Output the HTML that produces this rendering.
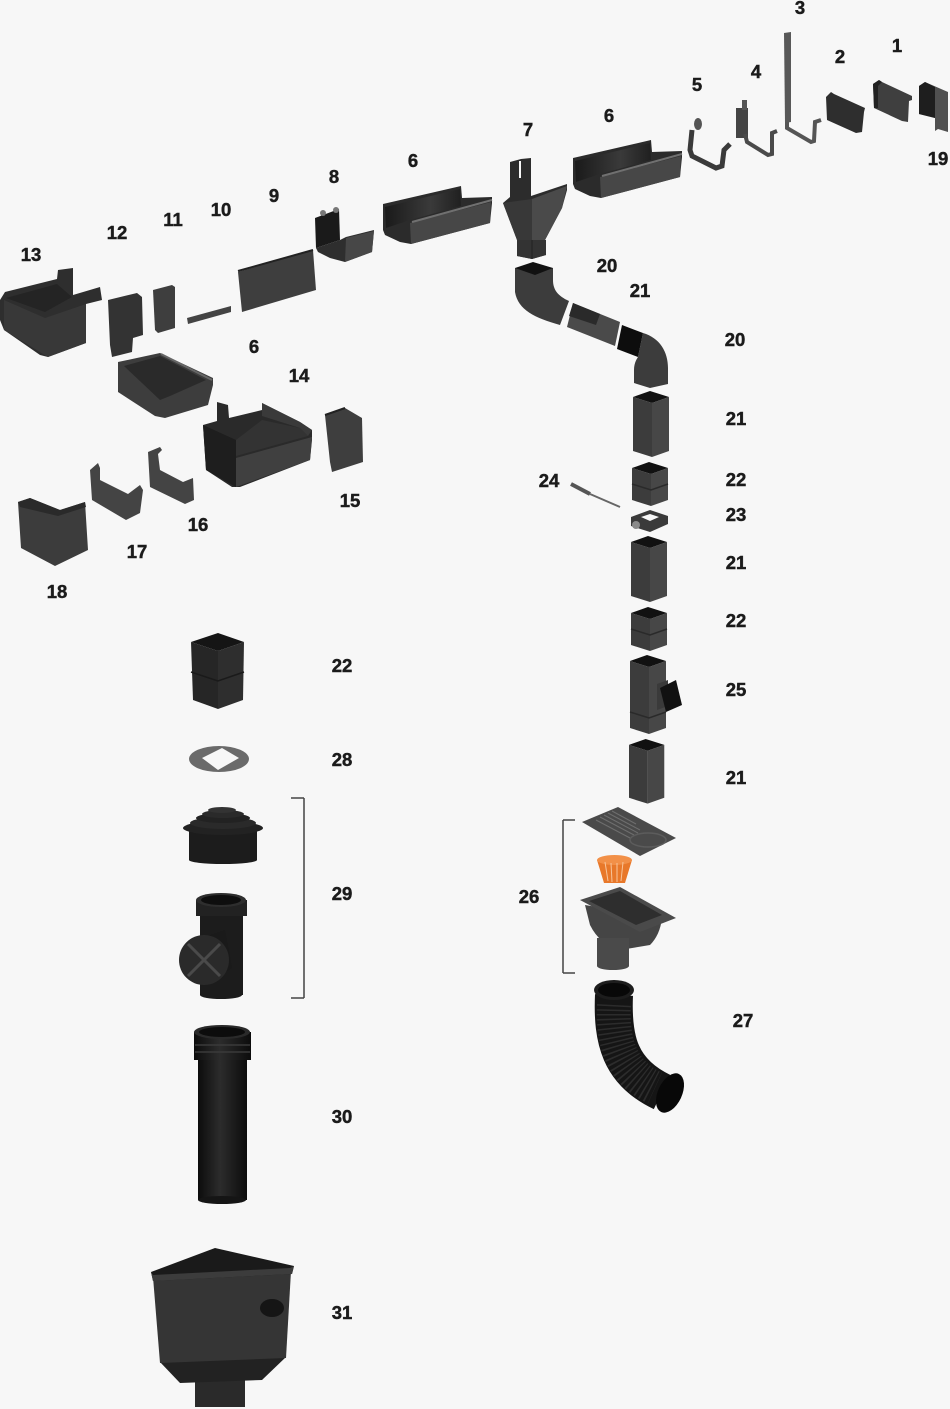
<!DOCTYPE html>
<html><head><meta charset="utf-8"><style>
html,body{margin:0;padding:0;background:#f7f7f7;}
svg{display:block;}
text{font-family:"Liberation Sans",sans-serif;font-weight:700;font-size:18.5px;fill:#1b1b1b;stroke:#1b1b1b;stroke-width:0.45;text-anchor:middle;}
</style></head><body>
<svg width="950" height="1409" viewBox="0 0 950 1409" xmlns="http://www.w3.org/2000/svg">
<defs>
<linearGradient id="gin" x1="0" y1="0" x2="1" y2="0"><stop offset="0" stop-color="#1a1a1a"/><stop offset="0.6" stop-color="#3a3a3a"/><stop offset="1" stop-color="#202020"/></linearGradient>
<linearGradient id="gp" x1="0" y1="0" x2="1" y2="0"><stop offset="0" stop-color="#0c0c0c"/><stop offset="0.45" stop-color="#2c2c2c"/><stop offset="1" stop-color="#0c0c0c"/></linearGradient>
<g id="gut">
<polygon points="573,158 651,140 652,152 682,151 682,157 680,177 601,198 590,196 575,189 573,184" fill="#2b2b2b"/>
<polygon points="575,161 650,143 651,160 600,174 576,182" fill="url(#gin)"/>
<polygon points="600,177 681,156 680,177 601,198" fill="#474747"/>
<line x1="602" y1="176" x2="682" y2="154" stroke="#707070" stroke-width="2"/>
</g>
<g id="tube">
<polygon points="0,6 17,0 36,6 19,12" fill="#111"/>
<polygon points="0,6 19,12 19,66 0,60" fill="#3c3c3c"/>
<polygon points="19,12 36,6 36,60 19,66" fill="#474747"/>
</g>
<g id="coup">
<polygon points="0,6 17,0 36,6 19,12" fill="#111"/>
<polygon points="0,6 19,12 19,44 0,38" fill="#3c3c3c"/>
<polygon points="19,12 36,6 36,38 19,44" fill="#474747"/>
<polyline points="0,22 19,28 36,22" fill="none" stroke="#2a2a2a" stroke-width="1.5"/>
</g>
</defs>

<!-- 1 -->
<polygon points="873,84 879,80 882,82 912,96 912,100 909,101 908,122 902,121 874,108" fill="#3f3f3f"/>
<polygon points="873,84 879,80 882,82 878,86 878,108 874,108" fill="#222"/>
<!-- 19 -->
<polygon points="919,86 925,82 948,92 948,132 938,129 935,131 935,118 919,114" fill="#505050"/>
<polygon points="919,86 925,82 935,87 935,118 919,114" fill="#1e1e1e"/>
<!-- 2 -->
<polygon points="826,97 831,92 834,94 865,108 864,112 862,132 856,133 827,120" fill="#2e2e2e"/>
<!-- 3 -->
<polygon points="784,33 791,32 791,122 785,123" fill="#585858"/>
<polyline points="787,122 787,128 811,142 814,141 815,122 821,120" fill="none" stroke="#555" stroke-width="4"/>
<!-- 4 -->
<rect x="736" y="108" width="12" height="30" fill="#444"/>
<rect x="742" y="100" width="5" height="10" fill="#555"/>
<polyline points="745,134 747,142 768,155 772,154 772,133 777,131" fill="none" stroke="#4a4a4a" stroke-width="4"/>
<!-- 5 -->
<polyline points="692,130 690,150 692,156 716,168 722,166 724,150 730,144" fill="none" stroke="#3a3a3a" stroke-width="5"/>
<ellipse cx="698" cy="124" rx="4" ry="6" fill="#555"/>
<!-- 6 gutters -->
<use href="#gut"/>
<use href="#gut" transform="translate(-190,46)"/>
<!-- 6 lower -->
<polygon points="118,362 160,353 213,378 213,385 208,405 165,418 155,416 118,392" fill="#3d3d3d"/>
<polygon points="124,366 160,356 206,380 170,396 160,400" fill="#2a2a2a"/>
<line x1="161" y1="354" x2="212" y2="380" stroke="#666" stroke-width="2"/>
<!-- 7 -->
<polygon points="503,203 510,197 510,162 521,159 531,158 531,196 567,184 567,190 562,208 545,240 546,255 532,259 517,256 517,240" fill="#2c2c2c"/>
<line x1="520" y1="161" x2="520" y2="178" stroke="#f7f7f7" stroke-width="2"/>
<polygon points="532,199 567,186 562,208 545,240 532,240" fill="#4a4a4a"/>
<polygon points="503,203 532,199 532,240 517,240" fill="#383838"/>
<polygon points="517,240 546,240 546,255 532,259 517,256" fill="#333"/>
<line x1="532" y1="240" x2="532" y2="259" stroke="#222" stroke-width="1"/>
<!-- 20 upper -->
<path d="M515,268 L515,292 C518,310 535,318 560,325 L569,301 C558,296 553,290 553,280 L553,268 Z" fill="#3c3c3c"/>
<polygon points="515,268 533,262 553,268 535,275" fill="#111"/>
<!-- 21 diagonal -->
<polygon points="573,303 620,322 615,346 567,327" fill="#4a4a4a"/>
<polygon points="573,303 600,314 596,325 569,316" fill="#2a2a2a"/>
<!-- 20 lower -->
<path d="M638,357 L643,333 C660,338 668,352 668,368 L668,384 L650,388 L634,383 L634,370 C634,364 636,360 638,357 Z" fill="#3c3c3c"/>
<polygon points="622,325 643,333 638,357 617,349" fill="#0d0d0d"/>
<!-- down tubes -->
<use href="#tube" transform="translate(633,391)"/>
<use href="#coup" transform="translate(632,462)"/>
<!-- 23 -->
<polygon points="631,517 650,510 668,516 668,524 650,532 631,526" fill="#3a3a3a"/>
<polygon points="641,517 650,514 659,517 650,521" fill="#f7f7f7"/>
<circle cx="636" cy="525" r="4" fill="#8a8a8a"/>
<!-- 24 -->
<line x1="571" y1="484" x2="590" y2="494" stroke="#555" stroke-width="4"/>
<line x1="590" y1="494" x2="620" y2="507" stroke="#666" stroke-width="2"/>
<use href="#tube" transform="translate(631,536)"/>
<use href="#coup" transform="translate(631,607)"/>
<!-- 25 -->
<polygon points="630,661 647,655 666,661 649,667" fill="#111"/>
<polygon points="630,661 649,667 649,734 630,728" fill="#3c3c3c"/>
<polygon points="649,667 666,661 666,728 649,734" fill="#474747"/>
<polyline points="630,712 649,718 666,712" fill="none" stroke="#2a2a2a" stroke-width="1.5"/>
<polygon points="657,684 668,680 668,706 657,710" fill="#3a3a3a"/>
<polygon points="660,688 676,680 682,705 666,712" fill="#111"/>
<use href="#tube" transform="translate(629,739) scale(0.98,0.98)"/>
<!-- 26 -->
<line x1="563" y1="820" x2="563" y2="973" stroke="#444" stroke-width="1.5"/>
<line x1="563" y1="820" x2="575" y2="820" stroke="#444" stroke-width="1.5"/>
<line x1="563" y1="973" x2="575" y2="973" stroke="#444" stroke-width="1.5"/>
<polygon points="582,822 618,807 676,838 640,856" fill="#4a4a4a"/>
<g stroke="#6e6e6e" stroke-width="1">
<line x1="596" y1="820" x2="630" y2="838"/><line x1="600" y1="817" x2="634" y2="835"/><line x1="604" y1="815" x2="638" y2="833"/><line x1="608" y1="813" x2="640" y2="830"/><line x1="612" y1="811" x2="636" y2="824"/>
</g>
<ellipse cx="648" cy="840" rx="18" ry="7" fill="none" stroke="#5c5c5c" stroke-width="1.5"/>
<polygon points="597,860 632,860 625,883 604,883" fill="#e8782a"/>
<ellipse cx="614.5" cy="860" rx="17.5" ry="5" fill="#f29048"/>
<g stroke="#f7c49a" stroke-width="1"><line x1="605" y1="862" x2="608" y2="881"/><line x1="611" y1="863" x2="612" y2="882"/><line x1="617" y1="863" x2="617" y2="882"/><line x1="623" y1="862" x2="621" y2="881"/></g>
<path d="M585,905 L590,925 Q600,945 620,950 L650,945 Q660,935 662,918 Z" fill="#454545"/>
<rect x="597" y="938" width="32" height="28" fill="#4a4a4a"/>
<ellipse cx="613" cy="966" rx="16" ry="4" fill="#4a4a4a"/>
<polygon points="580,900 620,887 676,918 640,932" fill="#4a4a4a"/>
<polygon points="589,901 620,891 662,915 636,925" fill="#2e2e2e"/>
<!-- 27 -->
<path d="M614,995 C612,1040 620,1072 662,1092" fill="none" stroke="#151515" stroke-width="38"/>
<path d="M614,1005 C612,1040 620,1072 655,1088" fill="none" stroke="#2c2c2c" stroke-width="34" stroke-dasharray="1.5 3"/>
<ellipse cx="614" cy="990" rx="20" ry="10" fill="#1d1d1d"/>
<ellipse cx="614" cy="990" rx="16" ry="7" fill="#080808"/>
<ellipse cx="670" cy="1093" rx="12" ry="21" transform="rotate(25 670 1093)" fill="#080808"/>
<!-- left column 22 -->
<polygon points="191,642 218,633 244,642 218,651" fill="#151515"/>
<polygon points="191,642 218,651 218,709 193,700" fill="#262626"/>
<polygon points="218,651 244,642 243,700 218,709" fill="#2e2e2e"/>
<polyline points="191,672 218,681 244,672" fill="none" stroke="#1a1a1a" stroke-width="1.5"/>
<!-- 28 -->
<ellipse cx="219" cy="759" rx="30" ry="13" fill="#6a6a6a"/>
<polygon points="202,758 222,748 239,758 218,770" fill="#f7f7f7"/>
<!-- 29 bracket -->
<line x1="304" y1="798" x2="304" y2="998" stroke="#444" stroke-width="1.5"/>
<line x1="291" y1="798" x2="304" y2="798" stroke="#444" stroke-width="1.5"/>
<line x1="291" y1="998" x2="304" y2="998" stroke="#444" stroke-width="1.5"/>
<!-- 29 cap -->
<rect x="189" y="828" width="68" height="32" fill="#1c1c1c"/>
<ellipse cx="223" cy="860" rx="34" ry="4" fill="#1c1c1c"/>
<ellipse cx="223" cy="828" rx="40" ry="7" fill="#222"/>
<ellipse cx="223" cy="823" rx="33" ry="6" fill="#2a2a2a"/>
<ellipse cx="223" cy="818" rx="27" ry="5" fill="#222"/>
<ellipse cx="223" cy="814" rx="21" ry="4" fill="#2a2a2a"/>
<ellipse cx="222" cy="810" rx="14" ry="3" fill="#333"/>
<!-- 29 tee -->
<rect x="200" y="905" width="43" height="90" fill="#1c1c1c"/>
<ellipse cx="221" cy="995" rx="21" ry="4" fill="#1c1c1c"/>
<rect x="196" y="900" width="51" height="16" fill="#222"/>
<ellipse cx="221" cy="900" rx="25" ry="7" fill="#2e2e2e"/>
<ellipse cx="221" cy="900" rx="20" ry="5" fill="#0e0e0e"/>
<polygon points="195,940 225,930 232,968 205,985" fill="#1a1a1a"/>
<circle cx="204" cy="960" r="25" fill="#2a2a2a"/>
<g stroke="#4a4a4a" stroke-width="3"><line x1="188" y1="944" x2="220" y2="976"/><line x1="220" y1="944" x2="188" y2="976"/></g>
<!-- 30 -->
<rect x="198" y="1045" width="49" height="155" fill="url(#gp)"/>
<ellipse cx="222" cy="1200" rx="24" ry="4" fill="#151515"/>
<rect x="194" y="1032" width="57" height="28" fill="url(#gp)"/>
<g stroke="#3a3a3a" stroke-width="1.5"><line x1="195" y1="1045" x2="250" y2="1045"/><line x1="195" y1="1052" x2="250" y2="1052"/></g>
<ellipse cx="222" cy="1032" rx="28" ry="7" fill="#2a2a2a"/>
<ellipse cx="222" cy="1032" rx="23" ry="5" fill="#0c0c0c"/>
<!-- 31 -->
<rect x="195" y="1375" width="50" height="32" fill="#2a2a2a"/>
<polygon points="160,1362 286,1357 262,1380 180,1383" fill="#222"/>
<polygon points="153,1277 291,1271 286,1358 160,1363" fill="#353535"/>
<polygon points="151,1272 215,1248 294,1266 292,1274 153,1281" fill="#1a1a1a"/>
<polygon points="151,1272 153,1281 292,1274 294,1266 290,1268 153,1275" fill="#3c3c3c"/>
<ellipse cx="272" cy="1308" rx="12" ry="9" fill="#151515"/>
<!-- 8 -->
<polygon points="316,248 340,240 346,237 374,230 372,252 345,262 330,258 318,252" fill="#2e2e2e"/>
<polygon points="315,218 339,209 340,240 316,248" fill="#1a1a1a"/>
<circle cx="323" cy="213" r="3" fill="#777"/><circle cx="336" cy="210" r="3" fill="#777"/>
<polygon points="346,238 374,231 372,252 345,262" fill="#474747"/>
<!-- 9 -->
<polygon points="238,272 313,250 316,290 242,312" fill="#3e3e3e"/>
<line x1="238" y1="271" x2="313" y2="250" stroke="#222" stroke-width="2"/>
<!-- 10 -->
<polygon points="187,318 231,306 231,312 188,324" fill="#444"/>
<!-- 11 -->
<polygon points="153,290 172,285 175,287 175,328 158,333 155,330" fill="#3e3e3e"/>
<!-- 12 -->
<polygon points="108,300 137,293 142,297 143,335 133,338 132,352 112,357 110,345" fill="#333"/>
<!-- 13 -->
<polygon points="0,300 5,292 57,279 58,270 73,268 73,295 100,287 102,300 86,304 86,343 48,357 40,355 4,330 0,320" fill="#2e2e2e"/>
<polygon points="4,300 45,318 86,304 86,343 48,357 4,330" fill="#383838"/>
<polygon points="6,298 57,284 72,297 45,312" fill="#242424"/>
<!-- 14 -->
<polygon points="203,425 217,421 217,402 228,405 229,418 262,410 262,403 300,422 312,430 312,440 310,460 240,487 232,487 206,470" fill="#2a2a2a"/>
<polygon points="203,425 236,440 236,487 206,470" fill="#1e1e1e"/>
<polygon points="236,440 262,420 300,428 308,436 236,456" fill="#333"/>
<polygon points="236,458 312,437 310,460 236,487" fill="#404040"/>
<polygon points="262,403 300,422 312,430 308,436 300,428 262,416" fill="#3a3a3a"/>
<!-- 15 -->
<polygon points="325,415 345,408 362,418 363,462 332,472 330,462" fill="#3e3e3e"/>
<line x1="325" y1="415" x2="345" y2="408" stroke="#222" stroke-width="2"/>
<!-- 16 -->
<polygon points="148,452 160,447 162,450 158,454 160,470 183,482 193,478 194,500 185,504 150,487" fill="#444"/>
<!-- 17 -->
<polygon points="90,470 98,463 100,468 100,480 128,494 140,485 143,490 140,513 126,520 92,500" fill="#444"/>
<!-- 18 -->
<polygon points="18,502 30,498 60,510 85,502 88,550 55,566 21,548" fill="#3c3c3c"/>
<polygon points="18,502 30,498 60,510 85,502 86,507 58,516 20,507" fill="#2a2a2a"/>

<!-- labels -->
<text x="800" y="14">3</text>
<text x="897" y="52">1</text>
<text x="840" y="63">2</text>
<text x="756" y="78">4</text>
<text x="697" y="91">5</text>
<text x="609" y="122">6</text>
<text x="528" y="136">7</text>
<text x="938" y="165">19</text>
<text x="413" y="167">6</text>
<text x="334" y="183">8</text>
<text x="274" y="202">9</text>
<text x="221" y="216">10</text>
<text x="173" y="226">11</text>
<text x="117" y="239">12</text>
<text x="31" y="261">13</text>
<text x="607" y="272">20</text>
<text x="640" y="297">21</text>
<text x="735" y="346">20</text>
<text x="254" y="353">6</text>
<text x="299" y="382">14</text>
<text x="736" y="425">21</text>
<text x="549" y="487">24</text>
<text x="736" y="486">22</text>
<text x="350" y="507">15</text>
<text x="736" y="521">23</text>
<text x="198" y="531">16</text>
<text x="137" y="558">17</text>
<text x="736" y="569">21</text>
<text x="57" y="598">18</text>
<text x="736" y="627">22</text>
<text x="342" y="672">22</text>
<text x="736" y="696">25</text>
<text x="342" y="766">28</text>
<text x="736" y="784">21</text>
<text x="342" y="900">29</text>
<text x="529" y="903">26</text>
<text x="743" y="1027">27</text>
<text x="342" y="1123">30</text>
<text x="342" y="1319">31</text>
</svg>
</body></html>
